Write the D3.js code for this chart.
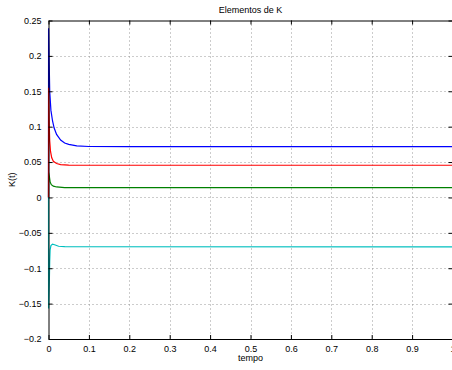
<!DOCTYPE html>
<html>
<head>
<meta charset="utf-8">
<script src="https://cdn.jsdelivr.net/npm/d3@7"></script>
<style>
  body { margin: 0; background: #fff; }
  text { font-family: 'Liberation Sans', Arial, sans-serif; }
</style>
</head>
<body>
<div id="chart"></div>
<script>
// Chart data
const title = 'Elementos de K'
const xLabel = 'tempo'
const yLabel = 'K(t)'
const xTicks = [0, 0.1, 0.2, 0.3, 0.4, 0.5, 0.6, 0.7, 0.8, 0.9, 1]
const yTicks = [-0.2, -0.15, -0.1, -0.05, 0, 0.05, 0.1, 0.15, 0.2, 0.25]

const seriesBlue = [[0, 0], [0.0002, 0.239], [0.003, 0.15], [0.006, 0.123], [0.01, 0.108], [0.014, 0.098], [0.02, 0.089], [0.03, 0.081], [0.04, 0.077], [0.05, 0.075], [0.07, 0.0728], [0.1, 0.072], [0.2, 0.0718], [1, 0.0718]]
const seriesGreen = [[0, 0], [0.0002, 0.035], [0.002, 0.03], [0.004, 0.022], [0.007, 0.018], [0.012, 0.016], [0.02, 0.0148], [0.04, 0.014], [0.1, 0.0138], [1, 0.0138]]
const seriesRed = [[0, 0], [0.0002, 0.155], [0.001, 0.13], [0.002, 0.1], [0.003, 0.08], [0.005, 0.065], [0.008, 0.056], [0.012, 0.051], [0.02, 0.048], [0.03, 0.0465], [0.05, 0.0458], [0.1, 0.0455], [1, 0.0455]]
const seriesCyan = [[0, 0], [0.0002, -0.157], [0.002, -0.12], [0.003, -0.09], [0.004, -0.074], [0.006, -0.068], [0.01, -0.066], [0.015, -0.0668], [0.025, -0.069], [0.04, -0.0696], [1, -0.0698]]

const series = [
  { values: seriesBlue, colour: '#0000ff' },
  { values: seriesGreen, colour: '#008000' },
  { values: seriesRed, colour: '#ff0000' },
  { values: seriesCyan, colour: '#00bfbf' }
]

const width = 452
const height = 370
const margin = { left: 48.5, right: 452.5, top: 20.5, bottom: 339 }

const x = d3.scaleLinear().domain([0, 1]).range([margin.left, margin.right])
const y = d3.scaleLinear().domain([-0.2, 0.25]).range([margin.bottom, margin.top])

const svg = d3.select('#chart')
  .append('svg')
  .attr('width', width)
  .attr('height', height)
  .attr('viewBox', [0, 0, width, height])

// dotted grid
const grid = svg.append('g')
  .attr('stroke', '#999')
  .attr('stroke-width', 1)
  .attr('stroke-dasharray', '1,3')
grid.selectAll('line.gx')
  .data(xTicks.slice(1, -1))
  .join('line')
  .attr('x1', d => Math.round(x(d)) + 0.5)
  .attr('x2', d => Math.round(x(d)) + 0.5)
  .attr('y1', margin.top)
  .attr('y2', margin.bottom)
grid.selectAll('line.gy')
  .data(yTicks.slice(1, -1))
  .join('line')
  .attr('x1', margin.left)
  .attr('x2', margin.right)
  .attr('y1', d => Math.round(y(d)) + 0.5)
  .attr('y2', d => Math.round(y(d)) + 0.5)

// the series
const line = d3.line()
  .x(d => x(d[0]))
  .y(d => y(d[1]))

svg.append('g')
  .selectAll('path')
  .data(series)
  .join('path')
  .attr('fill', 'none')
  .attr('stroke', d => d.colour)
  .attr('stroke-width', 1.2)
  .attr('d', d => line(d.values))

// axes: bottom/left with labels, top/right ticks only
const fmt = d => d === 0 ? '0' : d3.format('')(+d.toFixed(2)).replace('-', '\u2212')

const axisBottom = d3.axisBottom(x).tickValues(xTicks).tickSizeInner(-4).tickSizeOuter(0).tickPadding(7).tickFormat(fmt)
const axisLeft = d3.axisLeft(y).tickValues(yTicks).tickSizeInner(-4).tickSizeOuter(0).tickPadding(7).tickFormat(fmt)
const axisTop = d3.axisTop(x).tickValues(xTicks).tickSizeInner(-4).tickSizeOuter(0).tickFormat('')
const axisRight = d3.axisRight(y).tickValues(yTicks).tickSizeInner(-4).tickSizeOuter(0).tickFormat('')

function styleAxis (g) {
  g.selectAll('path').attr('stroke', '#000')
  g.selectAll('line').attr('stroke', '#000')
  g.selectAll('text').attr('fill', '#000').style('font-size', '9px').style('font-family', "'Liberation Sans', Arial, sans-serif")
}

svg.append('g').attr('transform', `translate(0,${margin.bottom})`).call(axisBottom).call(styleAxis)
svg.append('g').attr('transform', `translate(${margin.left},0)`).call(axisLeft).call(styleAxis)
svg.append('g').attr('transform', `translate(0,${margin.top})`).call(axisTop).call(styleAxis)
svg.append('g').attr('transform', `translate(${margin.right},0)`).call(axisRight).call(styleAxis)

// titles
svg.append('text')
  .attr('x', (margin.left + margin.right) / 2)
  .attr('y', 13)
  .attr('text-anchor', 'middle')
  .style('font-size', '9px')
  .text(title)

svg.append('text')
  .attr('x', (margin.left + margin.right) / 2)
  .attr('y', 361)
  .attr('text-anchor', 'middle')
  .style('font-size', '9px')
  .text(xLabel)

svg.append('text')
  .attr('transform', `translate(15,${(margin.top + margin.bottom) / 2}) rotate(-90)`)
  .attr('text-anchor', 'middle')
  .style('font-size', '9px')
  .text(yLabel)
</script>
</body>
</html>
